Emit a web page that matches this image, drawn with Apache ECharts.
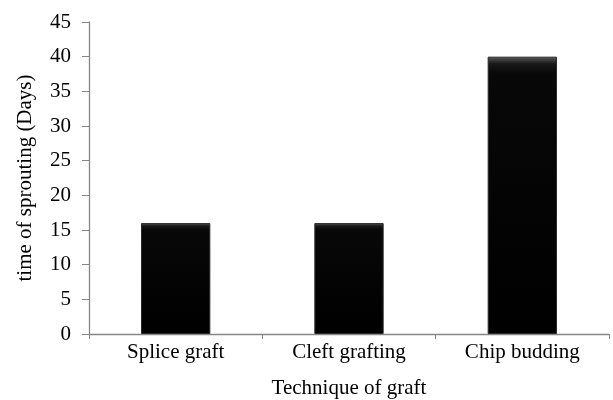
<!DOCTYPE html>
<html><head><meta charset="utf-8">
<script src="https://cdn.jsdelivr.net/npm/echarts@6/dist/echarts.min.js"></script>
<style>html,body{margin:0;padding:0;background:#fff}#c{width:613px;height:400px}</style>
</head><body><div id="c"></div>
<script>
const categories = ['Splice graft', 'Cleft grafting', 'Chip budding'];
const sproutDays = [16, 16, 40];
const yTicks = {min: 0, max: 45, interval: 5};
const font = 'Liberation Serif, Times New Roman, serif';
const axisGray = '#868686';
const chart = echarts.init(document.getElementById('c'));
chart.setOption({
  animation: false,
  grid: {left: 89, right: 4, top: 22, bottom: 66, outerBoundsMode: 'none', containLabel: false},
  xAxis: {
    type: 'category', data: categories,
    name: 'Technique of graft', nameLocation: 'middle', nameGap: 44,
    nameTextStyle: {fontFamily: font, fontSize: 21, color: '#000'},
    axisLine: {lineStyle: {color: axisGray, width: 1.3}},
    axisTick: {show: true, alignWithLabel: false, length: 5, lineStyle: {color: axisGray}},
    axisLabel: {fontFamily: font, fontSize: 21, color: '#000', margin: 8}
  },
  yAxis: {
    type: 'value', min: yTicks.min, max: yTicks.max, interval: yTicks.interval,
    name: 'time of sprouting (Days)', nameLocation: 'middle', nameGap: 53,
    nameTextStyle: {fontFamily: font, fontSize: 21, color: '#000'},
    axisLine: {show: true, lineStyle: {color: axisGray, width: 1.3}},
    axisTick: {show: true, length: 7, lineStyle: {color: axisGray}},
    splitLine: {show: false},
    axisLabel: {fontFamily: font, fontSize: 21, color: '#000', margin: 18}
  },
  series: [{
    type: 'bar', data: sproutDays, barWidth: '40%',
    itemStyle: {
      color: new echarts.graphic.LinearGradient(0, 0, 0, 1, [
        {offset: 0, color: '#5a5a5a'},
        {offset: 0.025, color: '#1a1a1a'},
        {offset: 0.06, color: '#080808'},
        {offset: 1, color: '#000'}
      ]),
      borderColor: '#2a2a2a', borderWidth: 1
    }
  }]
});
</script></body></html>
